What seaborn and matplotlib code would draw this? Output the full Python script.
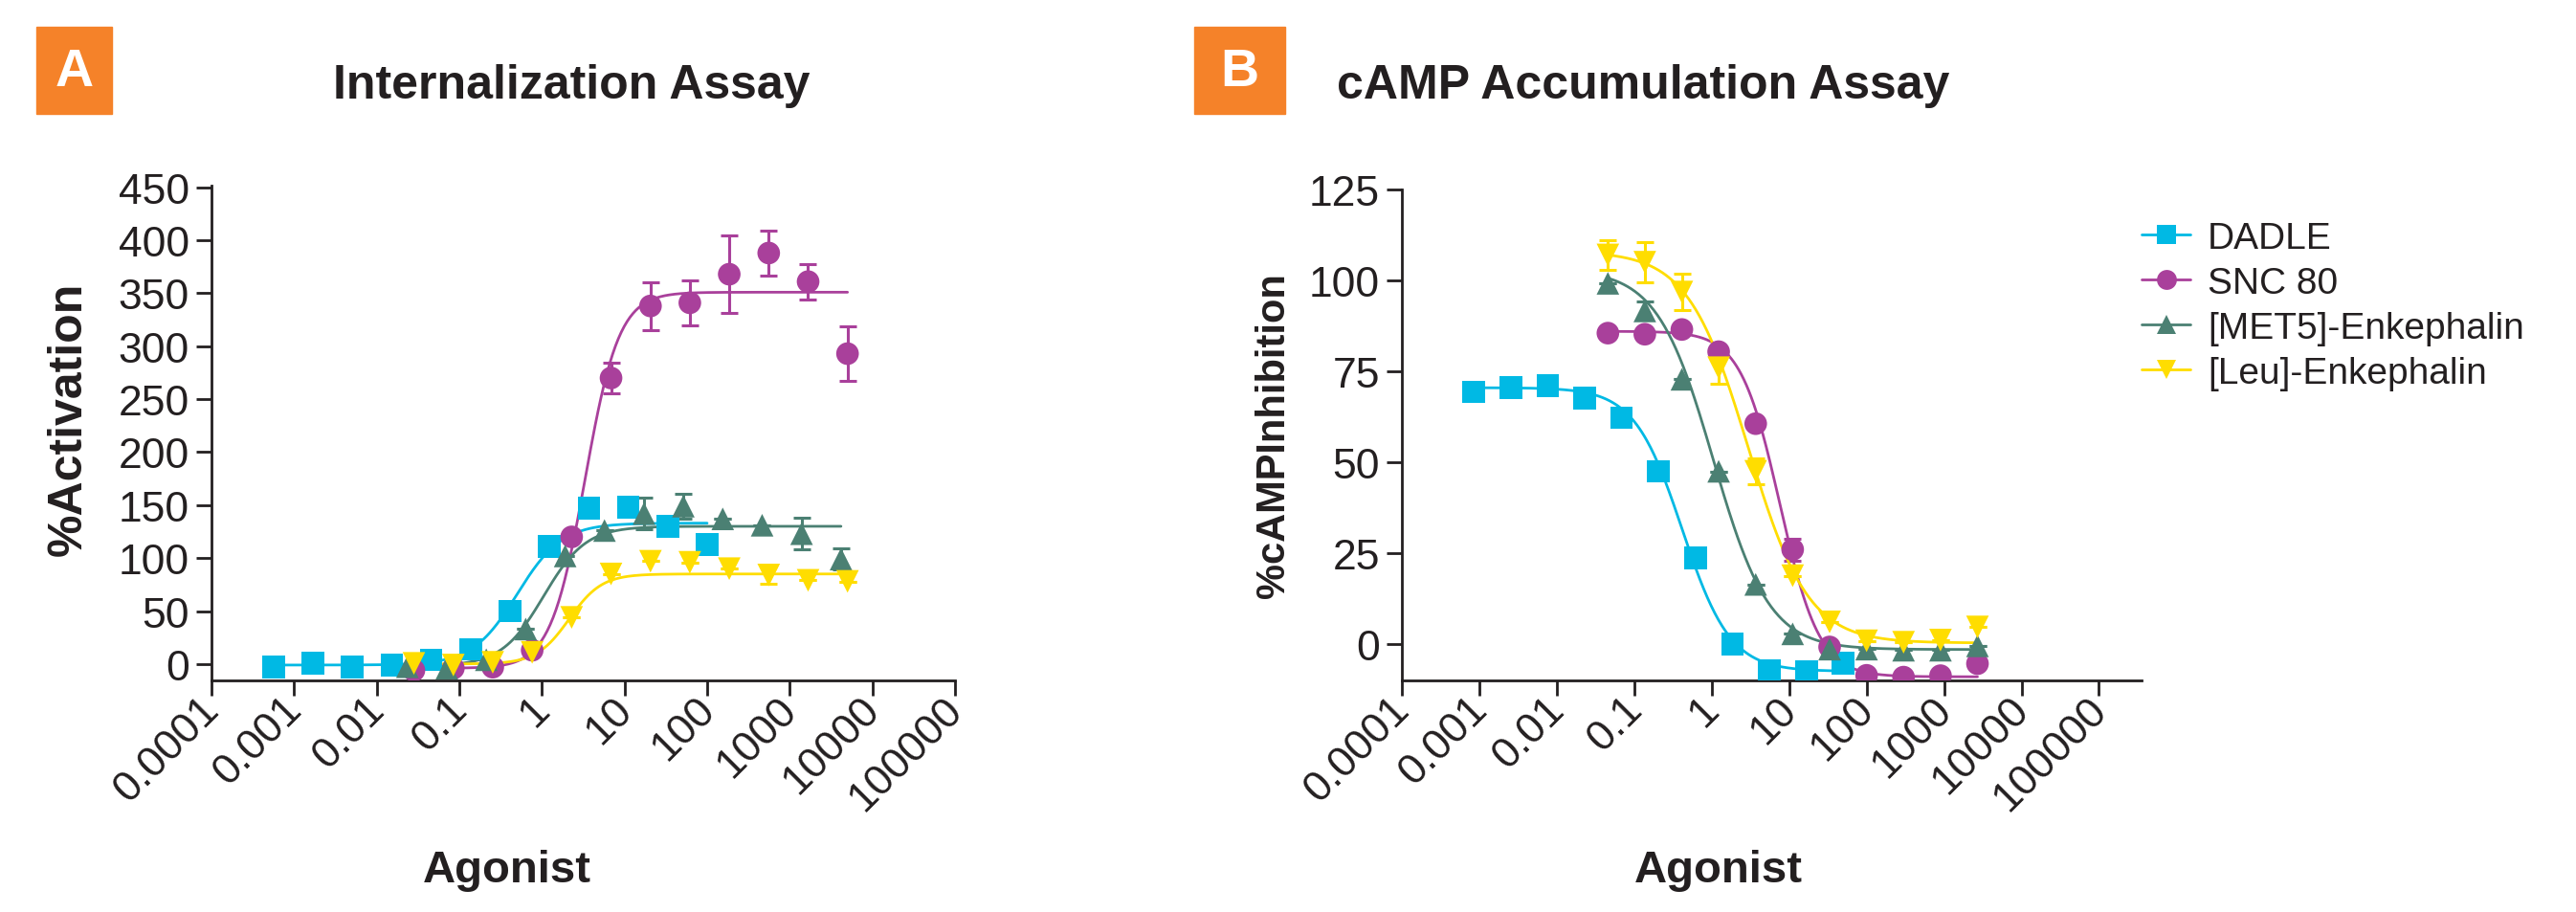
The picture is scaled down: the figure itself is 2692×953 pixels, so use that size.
import numpy as np
import pandas as pd
import seaborn as sns
import matplotlib
matplotlib.use('Agg')
from matplotlib import pyplot as plt
from matplotlib.lines import Line2D
from matplotlib.patches import Rectangle
from matplotlib.transforms import ScaledTranslation

# ---- data ----
series_names = ['DADLE', 'SNC 80', '[MET5]-Enkephalin', '[Leu]-Enkephalin']
series_colors = ['#00B9E4', '#A9409B', '#4B8073', '#FFDD00']
series_markers = ['s', 'o', '^', 'v']

# Panel A: internalization (% activation)
dadle_a_x = [0.000565, 0.00169, 0.00508, 0.0152, 0.0457, 0.137, 0.412, 1.23, 3.70, 11.1, 33.3, 100]
dadle_a_y = [-2.6, 0.6, -2.6, -1, 4, 14, 50, 111, 147, 148, 130, 113]
dadle_a_err = [0, 0, 0, 0, 0, 0, 0, 0, 0, 0, 0, 0]
snc_a_x = [0.0282, 0.0847, 0.254, 0.762, 2.29, 6.86, 20.6, 61.7, 185, 556, 1667, 5000]
snc_a_y = [-6, -4, -3, 13, 120, 270, 338, 341, 368, 388, 361, 293]
snc_a_err = [0, 0, 0, 0, 0, 14.7, 22.6, 21.5, 36.8, 21.3, 16.5, 25.7]
met_a_x = [0.0235, 0.0706, 0.212, 0.636, 1.91, 5.72, 17.2, 51.5, 154.4, 463, 1390, 4170]
met_a_y = [-2.6, -4, 4, 33, 102, 126, 142, 149, 137, 131, 123, 99]
met_a_err = [0, 0, 0, 0, 0, 0, 15, 12, 0, 0, 15, 10]
leu_a_x = [0.0282, 0.0847, 0.254, 0.762, 2.29, 6.86, 20.6, 61.7, 185, 556, 1667, 5000]
leu_a_y = [0.6, -1, 1.6, 11, 44, 85, 97, 96, 90, 84, 79, 78]
leu_a_err = [0, 0, 0, 0, 0, 0, 0, 0, 0, 8, 0, 0]
# fitted curve parameters (bottom, top, logEC50, hill) estimated from the drawn fits
fit_a = [(-1, 133, -0.3, 1.6), (-4, 351, 0.52, 2.1), (-2, 130, 0.02, 1.7), (0, 85, 0.33, 2.2)]

# Panel B: cAMP accumulation (% inhibition)
dadle_b_x = [0.000847, 0.00254, 0.00762, 0.0229, 0.0686, 0.206, 0.617, 1.85, 5.56, 16.7, 50]
dadle_b_y = [69.3, 70.5, 71, 67.7, 62.2, 47.5, 23.7, 0, -7.3, -7.5, -5.2]
dadle_b_err = [0, 0, 0, 0, 0, 0, 0, 0, 0, 0, 0]
snc_b_x = [0.0457, 0.137, 0.412, 1.23, 3.70, 11.1, 33.3, 100, 300, 900, 2700]
snc_b_y = [85.5, 85.2, 86.5, 80.4, 60.6, 26, -0.8, -8.6, -9.1, -8.7, -5.4]
snc_b_err = [0, 0, 0, 0, 0, 3, 0, 0, 0, 0, 0]
met_b_x = [0.0457, 0.137, 0.412, 1.23, 3.70, 11.1, 33.3, 100, 300, 900, 2700]
met_b_y = [99.2, 91.6, 72.8, 47.5, 16.4, 2.8, -1.4, -1.4, -1.7, -1.7, -0.5]
met_b_err = [0, 2.5, 0, 0, 0, 0, 0, 0, 0, 0, 0]
leu_b_x = [0.0457, 0.137, 0.412, 1.23, 3.70, 11.1, 33.3, 100, 300, 900, 2700]
leu_b_y = [107, 105, 96.8, 76, 47.5, 18.8, 6.1, 0.9, 0.5, 1.1, 4.7]
leu_b_err = [4, 5.4, 5, 4.5, 3.6, 0, 0, 0, 0, 0, 0]
fit_b = [(70.5, -7.5, -0.38, 1.4), (86, -9, 0.88, 1.7), (103, -1.5, 0.02, 1.2), (108, 0.3, 0.47, 1.12)]

x_ticks = [1e-4, 1e-3, 1e-2, 1e-1, 1, 10, 100, 1000, 10000, 100000]
x_tick_labels = ['0.0001', '0.001', '0.01', '0.1', '1', '10', '100', '1000', '10000', '100000']
a_y_ticks = [0, 50, 100, 150, 200, 250, 300, 350, 400, 450]
b_y_ticks = [0, 25, 50, 75, 100, 125]

# ---- style ----
sns.set_theme(style='ticks')
plt.rcParams['font.family'] = ['Liberation Sans', 'DejaVu Sans']
plt.rcParams['axes.linewidth'] = 2.0

dark = '#231F20'
orange = '#F58229'
W, H = 2692, 954
fig = plt.figure(figsize=(W / 100, H / 100), dpi=100)


def px_axes(left, top, right, bottom):
    return fig.add_axes([left / W, 1 - bottom / H, (right - left) / W, (bottom - top) / H])


def fit_curve(xs, p, rising=True):
    grid = np.logspace(np.log10(min(xs)), np.log10(max(xs)), 300)
    a, b, logec, hill = p
    if rising:
        ys = a + (b - a) / (1 + 10 ** ((logec - np.log10(grid)) * hill))
    else:
        ys = b + (a - b) / (1 + 10 ** ((np.log10(grid) - logec) * hill))
    return grid, ys


def draw_panel(ax, data, fits, rising):
    for (xs, ys, err), p, name, col, mk in zip(data, fits, series_names, series_colors, series_markers):
        gx, gy = fit_curve(xs, p, rising)
        sns.lineplot(x=gx, y=gy, color=col, lw=2.0, ax=ax, zorder=2)
        ax.errorbar(xs, ys, yerr=err, fmt='none', ecolor=col, elinewidth=2.2, capsize=6.5,
                    capthick=2.2, zorder=2)
        df = pd.DataFrame({'conc': xs, 'resp': ys})
        sns.scatterplot(data=df, x='conc', y='resp', marker=mk, s=290, color=col,
                        edgecolor='none', linewidth=0, ax=ax, zorder=3)
    ax.set_xscale('log')
    ax.set_xticks(x_ticks)
    ax.set_xticklabels(x_tick_labels, rotation=45, ha='right', va='top', rotation_mode='anchor')
    ax.minorticks_off()
    ax.set_xlabel('')
    ax.set_ylabel('')
    ax.tick_params(axis='both', labelsize=32, width=2.0, length=11.5, color=dark,
                   labelcolor=dark)
    ax.tick_params(axis='x', pad=0)
    ax.tick_params(axis='y', pad=5)
    shift = ScaledTranslation(-0.13, 0.07, fig.dpi_scale_trans)
    for lab in ax.get_xticklabels():
        lab.set_transform(lab.get_transform() + shift)
    sns.despine(ax=ax)
    for s in ['left', 'bottom']:
        ax.spines[s].set_color(dark)


axA = px_axes(221, 195, 998, 712)
data_a = [(dadle_a_x, dadle_a_y, dadle_a_err), (snc_a_x, snc_a_y, snc_a_err),
          (met_a_x, met_a_y, met_a_err), (leu_a_x, leu_a_y, leu_a_err)]
draw_panel(axA, data_a, fit_a, True)
axA.set_xlim(1e-4, 1e5)
axA.set_ylim(-15.5, 451.6)
axA.set_yticks(a_y_ticks)

axB = px_axes(1465, 199, 2238, 712)
data_b = [(dadle_b_x, dadle_b_y, dadle_b_err), (snc_b_x, snc_b_y, snc_b_err),
          (met_b_x, met_b_y, met_b_err), (leu_b_x, leu_b_y, leu_b_err)]
draw_panel(axB, data_b, fit_b, False)
axB.set_xlim(1e-4, 10 ** 5.55)
axB.set_ylim(-10, 125)
axB.set_yticks(b_y_ticks)

# legend, laid out row by row like the original
for i, (name, col, mk) in enumerate(zip(series_names, series_colors, series_markers)):
    row_y = 1 - (246 + 47 * i) / H
    fig.add_artist(Line2D([2238 / W, 2289 / W], [row_y, row_y], color=col, lw=2.0,
                          transform=fig.transFigure))
    fig.add_artist(Line2D([2263.5 / W], [row_y], color=col, marker=mk, markersize=15,
                          markeredgewidth=0, transform=fig.transFigure))
    fig.text(2307 / W, row_y - 14 / H, name, fontsize=28, color=dark, ha='left', va='baseline')

# titles, panel letters and axis labels
for (x0, x1, letter) in [(38, 117, 'A'), (1248, 1343, 'B')]:
    fig.patches.append(Rectangle((x0 / W, 1 - 120 / H), (x1 - x0) / W, 91 / H,
                                 transform=fig.transFigure, color=orange, zorder=0))
    fig.text((x0 + x1) / 2 / W, 1 - 76 / H, letter, color='white', fontsize=40,
             fontweight='bold', ha='center', va='center')
fig.text(597 / W, 1 - 103 / H, 'Internalization Assay', fontsize=36, fontweight='bold',
         ha='center', va='baseline', color=dark)
fig.text(1717 / W, 1 - 103 / H, 'cAMP Accumulation Assay', fontsize=36, fontweight='bold',
         ha='center', va='baseline', color=dark)
fig.text(72 / W, 1 - 438 / H, '%Activation', fontsize=36, fontweight='bold', rotation=90,
         ha='center', va='center', color=dark)
fig.text(1331 / W, 1 - 455 / H, '%cAMPInhibition', fontsize=30, fontweight='bold', rotation=90,
         ha='center', va='center', color=dark)
fig.text(530 / W, 1 - 910 / H, 'Agonist', fontsize=34, fontweight='bold',
         ha='center', va='center', color=dark)
fig.text(1796 / W, 1 - 910 / H, 'Agonist', fontsize=34, fontweight='bold',
         ha='center', va='center', color=dark)

fig.savefig('out.png', dpi=100, facecolor='white')
